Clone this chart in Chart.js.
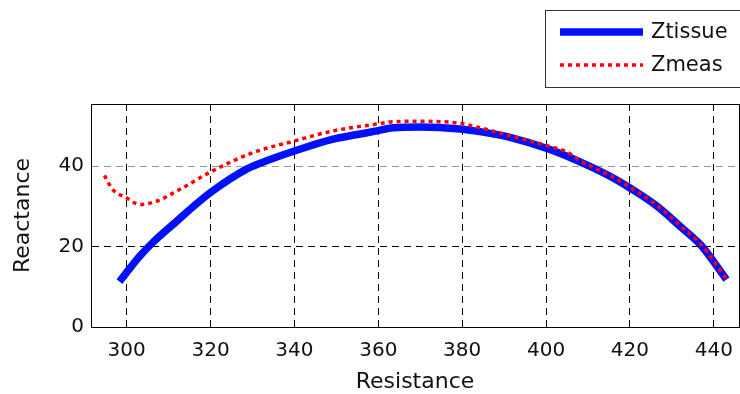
<!DOCTYPE html>
<html>
<head>
<meta charset="utf-8">
<script src="https://cdn.jsdelivr.net/npm/chart.js@4"></script>
<style>
  html, body { margin: 0; padding: 0; background: #fff; }
  #wrap { width: 740px; height: 394px; }
</style>
</head>
<body>
<div id="wrap"><canvas id="plot"></canvas></div>
<script>
var tissueR = [298.3, 300, 303, 306.2, 311.9, 316, 320.4, 328.6, 334, 340, 349, 355, 359.6, 363.5, 370, 379.5, 385, 391.4, 400.6, 408.1, 416, 420, 426.4, 431.9, 436.8, 440, 443];
var tissueX = [11.3, 13.6, 17.5, 21, 26.3, 30.1, 33.8, 39.3, 41.6, 43.8, 46.7, 47.9, 48.8, 49.6, 49.8, 49.3, 48.5, 47.2, 44.3, 41.1, 37.1, 34.6, 30.1, 25.1, 20.5, 16.2, 11.8];
var measR = [294.7, 296.7, 299.9, 303.1, 307.1, 312.6, 320.4, 330.1, 340, 349.2, 359.6, 363.5, 370, 379.5, 382.6, 391.4, 400.6, 404.9, 408.1, 416, 420, 426.4, 431.9, 436.8, 440, 443];
var measX = [37.7, 34.2, 32.2, 30.5, 31.3, 34.2, 38.8, 43.4, 46.3, 48.8, 50.5, 51.1, 51.2, 50.7, 50, 47.6, 45, 43.6, 41.4, 37.3, 34.8, 30.3, 25.3, 20.7, 16.4, 11.9];
var xTicks = [300, 320, 340, 360, 380, 400, 420, 440];
var yTicks = [0, 20, 40];

function toPoints(xs, ys) {
  return xs.map(function (x, i) { return { x: x, y: ys[i] }; });
}

var FONT = "'DejaVu Sans', sans-serif";

var boxPlugin = {
  id: "box",
  afterDraw: function (chart) {
    var a = chart.chartArea, c = chart.ctx;
    c.save();
    c.strokeStyle = "#000";
    c.lineWidth = 1;
    c.strokeRect(a.left + 0.5, a.top + 0.5, a.right - a.left, a.bottom - a.top);
    c.restore();
  }
};

var legendPlugin = {
  id: "legendBox",
  afterDraw: function (chart) {
    var c = chart.ctx;
    var ds = chart.data.datasets;
    c.save();
    c.fillStyle = "#fff";
    c.fillRect(545, 10, 200, 78);
    c.strokeStyle = "#333";
    c.lineWidth = 1;
    c.strokeRect(545.5, 10.5, 200, 77);
    var rows = [32, 65];
    ds.forEach(function (d, i) {
      c.beginPath();
      c.strokeStyle = d.borderColor;
      c.lineWidth = d.borderWidth;
      c.setLineDash(d.borderDash || []);
      c.moveTo(560, rows[i]);
      c.lineTo(643, rows[i]);
      c.stroke();
      c.setLineDash([]);
      c.fillStyle = "#111";
      c.font = "21px " + FONT;
      c.textBaseline = "middle";
      c.fillText(d.label, 651, rows[i] + 1);
    });
    c.restore();
  }
};

new Chart(document.getElementById("plot"), {
  type: "scatter",
  data: {
    datasets: [
      {
        label: "Ztissue",
        data: toPoints(tissueR, tissueX),
        showLine: true,
        borderColor: "#0010ff",
        borderWidth: 7.5,
        pointRadius: 0,
        cubicInterpolationMode: "monotone",
        order: 2
      },
      {
        label: "Zmeas",
        data: toPoints(measR, measX),
        showLine: true,
        borderColor: "#ff0000",
        borderWidth: 3.5,
        borderDash: [4, 4],
        pointRadius: 0,
        cubicInterpolationMode: "monotone",
        order: 1
      }
    ]
  },
  options: {
    responsive: true,
    maintainAspectRatio: false,
    animation: false,
    layout: { padding: { top: 104, right: 1, left: 0, bottom: 0 } },
    plugins: { legend: { display: false }, tooltip: { enabled: false } },
    scales: {
      x: {
        type: "linear",
        min: 291.5,
        max: 446,
        afterBuildTicks: function (s) { s.ticks = xTicks.map(function (v) { return { value: v }; }); },
        afterFit: function (s) { s.height = 67; s.paddingLeft = 0; s.paddingRight = 0; },
        ticks: { color: "#111", font: { family: FONT, size: 20 }, padding: 12, maxRotation: 0 },
        grid: { color: "#000", lineWidth: 1, drawTicks: false },
        border: { color: "#000", dash: [7, 5] },
        title: { display: true, text: "Resistance", color: "#111", font: { family: FONT, size: 22 }, padding: { top: 0, bottom: -1 } }
      },
      y: {
        min: 0,
        max: 55.5,
        afterBuildTicks: function (s) { s.ticks = yTicks.map(function (v) { return { value: v }; }); },
        afterFit: function (s) { s.width = 91; },
        ticks: { color: "#111", font: { family: FONT, size: 20 }, padding: 7 },
        grid: {
          color: function (ctx) { return ctx.tick && ctx.tick.value === 40 ? "#999" : "#000"; },
          lineWidth: 1,
          drawTicks: false
        },
        border: { color: "#000", dash: [7, 5] },
        title: { display: true, text: "Reactance", color: "#111", font: { family: FONT, size: 22 }, padding: { top: 10, bottom: 0 } }
      }
    }
  },
  plugins: [boxPlugin, legendPlugin]
});
</script>
</body>
</html>
